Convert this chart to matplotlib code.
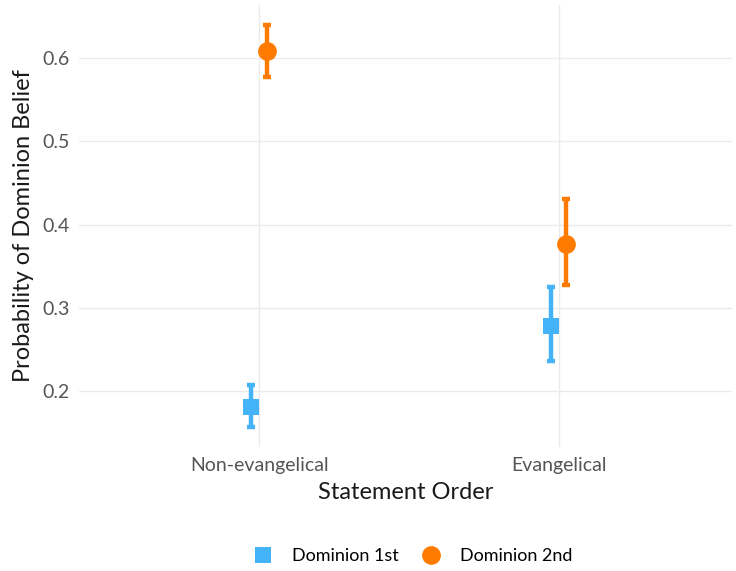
import matplotlib
matplotlib.use("Agg")
import matplotlib.pyplot as plt
import numpy as np

plt.rcParams['font.family'] = ['Lato', 'DejaVu Sans']

categories = ["Non-evangelical", "Evangelical"]
series_names = ["Dominion 1st", "Dominion 2nd"]
estimates = {
    "Dominion 1st": [0.181, 0.278],
    "Dominion 2nd": [0.608, 0.377],
}
lower = {
    "Dominion 1st": [0.157, 0.236],
    "Dominion 2nd": [0.577, 0.327],
}
upper = {
    "Dominion 1st": [0.207, 0.325],
    "Dominion 2nd": [0.640, 0.431],
}
colors = {"Dominion 1st": "#44b3f8", "Dominion 2nd": "#ff7b00"}
markers = {"Dominion 1st": "s", "Dominion 2nd": "o"}
msizes = {"Dominion 1st": 11.5, "Dominion 2nd": 13.5}
offsets = {"Dominion 1st": -0.026, "Dominion 2nd": 0.026}

fig = plt.figure(figsize=(7.36, 5.71), dpi=100)
ax = fig.add_axes([0.108, 0.217, 0.887, 0.775])

x = np.arange(1, len(categories) + 1)
handles = []
for name in series_names:
    est = np.array(estimates[name])
    lo = np.array(lower[name])
    hi = np.array(upper[name])
    xs = x + offsets[name]
    ax.errorbar(xs, est, yerr=[est - lo, hi - est], fmt="none",
                ecolor=colors[name], elinewidth=3.2, capsize=3, capthick=3.2, zorder=3)
    h, = ax.plot(xs, est, linestyle="none", marker=markers[name], markersize=msizes[name],
                 color=colors[name], markeredgewidth=0, zorder=4, label=name)
    handles.append(h)

ax.set_xlim(0.4, 2.58)
ax.set_ylim(0.133, 0.664)
ax.set_xticks(x)
ax.set_xticklabels(categories)
ax.set_yticks([0.2, 0.3, 0.4, 0.5, 0.6])
ax.set_yticklabels(["0.2", "0.3", "0.4", "0.5", "0.6"])

for s in ax.spines.values():
    s.set_visible(False)
ax.grid(True, color="#ebebeb", linewidth=1.0)
ax.set_axisbelow(True)
ax.tick_params(axis="both", length=0, labelsize=14, labelcolor="#555555", pad=7)

ax.set_xlabel("Statement Order", fontsize=17, color="#1a1a1a", labelpad=6)
ax.set_ylabel("Probability of Dominion Belief", fontsize=17, color="#1a1a1a", labelpad=6)

fig.legend(handles=handles, labels=series_names, loc="center", ncol=2,
           bbox_to_anchor=(0.56, 0.026), frameon=False, fontsize=13,
           handletextpad=1.0, columnspacing=1.2, handlelength=1.2)

fig.savefig("out.png", dpi=100, facecolor="white")
